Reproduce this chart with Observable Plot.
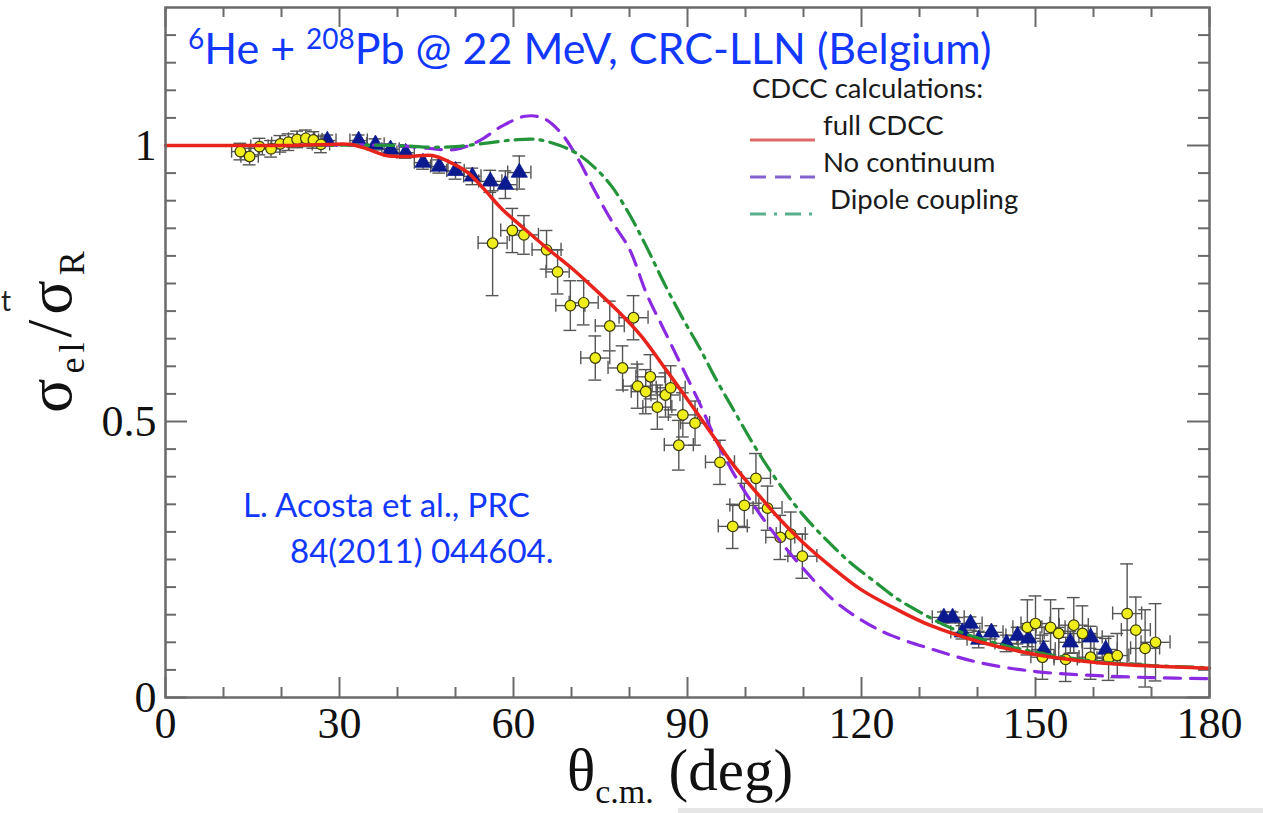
<!DOCTYPE html>
<html><head><meta charset="utf-8">
<script src="https://cdn.jsdelivr.net/npm/d3@7"></script>
<script src="https://cdn.jsdelivr.net/npm/@observablehq/plot@0.6"></script>
<style>
html,body{margin:0;padding:0;background:#fff;}
#wrap{position:relative;width:1263px;height:813px;overflow:hidden;}
#bar{position:absolute;left:678px;top:808px;width:585px;height:5px;background:#e6e6e6;}
</style></head>
<body><div id="wrap"><div id="bar"></div></div>
<script>
// ---- curves (theta in deg, sigma_el/sigma_R) ----
const fullTheta = [0,10,20,28,32,35,38,42,46,49,52,55,58,62,66,70,74,78,82,86,90,94,98,102,106,110,115,120,126,132,140,150,160,170,180];
const fullRatio = [1.0,1.0,1.0,1.002,1.002,0.993,0.982,0.98,0.982,0.97,0.952,0.92,0.885,0.848,0.812,0.778,0.74,0.70,0.655,0.598,0.54,0.48,0.42,0.37,0.322,0.28,0.235,0.195,0.16,0.13,0.102,0.078,0.064,0.057,0.053];
const noContTheta = [0,20,40,45,50,54,58,62,65,68,71,74,77,80,83,86,89,92,95,98,101,104,107,110,115,120,125,132,140,150,160,170,180];
const noContRatio = [1.0,1.0,1.0,0.995,0.993,1.008,1.035,1.053,1.05,1.025,0.978,0.918,0.862,0.812,0.73,0.665,0.60,0.535,0.465,0.405,0.355,0.31,0.27,0.233,0.178,0.14,0.113,0.088,0.064,0.047,0.04,0.036,0.034];
const dipoleTheta = [0,20,40,45,50,55,60,64,68,71,74,77,80,83,86,89,92,95,98,101,104,107,110,114,118,122,126,130,135,140,150,160,170,180];
const dipoleRatio = [1.0,1.0,1.0,0.997,0.998,1.004,1.01,1.011,1.0,0.985,0.96,0.925,0.875,0.815,0.75,0.69,0.635,0.575,0.52,0.465,0.415,0.37,0.33,0.285,0.245,0.212,0.18,0.155,0.128,0.108,0.082,0.066,0.058,0.054];

// ---- data: yellow circles ----
const circTheta = [12.9,14.5,16.2,18.2,19.8,21.2,22.7,24.2,25.5,26.8,
  56.4,59.8,61.8,65.7,67.6,69.8,72.1,74.1,76.6,78.8,80.7,81.4,82.8,83.6,84.8,86.2,87.1,88.5,89.2,91.3,95.6,97.8,99.8,101.8,103.8,106.0,107.8,109.8,
  148.6,150.0,151.2,152.6,154.0,155.2,156.6,158.1,159.5,162.6,164.1,165.8,167.3,168.9,170.7];
const circRatio = [0.989,0.980,0.998,0.994,1.003,1.006,1.011,1.013,1.010,1.002,
  0.823,0.846,0.838,0.811,0.771,0.710,0.715,0.615,0.673,0.597,0.688,0.564,0.554,0.581,0.526,0.548,0.561,0.457,0.512,0.497,0.426,0.310,0.348,0.397,0.343,0.290,0.296,0.256,
  0.127,0.134,0.073,0.127,0.116,0.069,0.131,0.116,0.073,0.071,0.076,0.152,0.122,0.089,0.100];
const circThetaErr = [1.5,1.5,1.5,1.5,1.5,1.5,1.5,1.5,1.5,1.5,
  2.5,2,2.5,2.5,2,2.5,2.5,2.5,2.5,2.5,2.5,2.5,2.5,2.5,2.5,2.5,2.5,2.5,2.5,2.5,2.5,2.5,2.5,2.5,2.5,2.5,2.5,2.5,
  2.5,2.5,2,2.5,2.5,2,2.5,2.5,2,2,2,2.5,2.5,2.5,2.5];
const circRatioErr = [0.015,0.015,0.015,0.015,0.015,0.015,0.015,0.015,0.015,0.015,
  0.095,0.04,0.035,0.035,0.04,0.045,0.04,0.04,0.045,0.04,0.04,0.04,0.04,0.04,0.04,0.04,0.04,0.045,0.04,0.04,0.04,0.04,0.04,0.045,0.04,0.04,0.04,0.04,
  0.05,0.05,0.04,0.05,0.045,0.04,0.05,0.05,0.04,0.04,0.04,0.09,0.06,0.07,0.07];

// ---- data: blue triangles ----
const triTheta = [27.9,33.3,36.2,38.8,41.4,44.4,47.2,50.0,52.9,56.0,58.6,61.0,
  134.2,135.7,137.4,138.8,140.2,142.4,145.0,146.9,148.8,151.4,156.0,159.5,162.1];
const triRatio = [1.009,1.009,1.002,0.993,0.987,0.969,0.962,0.954,0.944,0.935,0.929,0.951,
  0.145,0.145,0.118,0.134,0.105,0.118,0.098,0.112,0.107,0.087,0.100,0.109,0.087];
const triThetaErr = [1.5,1.5,1.5,1.5,1.5,1.5,1.5,1.5,1.5,2,2,2,
  2,2,2,2,2,2,2,2,2,2,2,2,2];
const triRatioErr = [0.01,0.01,0.01,0.01,0.01,0.012,0.012,0.015,0.015,0.02,0.025,0.03,
  0.01,0.01,0.012,0.012,0.015,0.012,0.015,0.015,0.015,0.015,0.02,0.02,0.02];

// ---- ticks ----
const xMajor = [0,30,60,90,120,150,180];
const xMinor = [10,20,40,50,70,80,100,110,130,140,160,170];
const yMajor = [0,0.5,1];
const yMinor = [0.05,0.1,0.15,0.2,0.25,0.3,0.35,0.4,0.45,0.55,0.6,0.65,0.7,0.75,0.8,0.85,0.9,0.95,1.05,1.1,1.15,1.2];

const mL=165, mR=54, mT=7, mB=116, W=1263, H=813;
const innerW = W-mL-mR, innerH = H-mT-mB;

const curve = (th, v) => th.map((t,i)=>({t, v:v[i]}));
const rows = (th, v, dth, dv) => th.map((t,i)=>({t, v:v[i], dt:dth[i], dv:dv[i]}));
const circ = rows(circTheta, circRatio, circThetaErr, circRatioErr);
const tri = rows(triTheta, triRatio, triThetaErr, triRatioErr);

function errMarks(data){
  const st = {stroke:"#555", strokeWidth:1.4};
  return [
    Plot.ruleX(data, {x:"t", y1:d=>d.v-d.dv, y2:d=>d.v+d.dv, ...st}),
    Plot.ruleY(data, {y:"v", x1:d=>d.t-d.dt, x2:d=>d.t+d.dt, ...st}),
    Plot.ruleY(data, {y:d=>d.v-d.dv, x1:d=>d.t-1.1, x2:d=>d.t+1.1, ...st}),
    Plot.ruleY(data, {y:d=>d.v+d.dv, x1:d=>d.t-1.1, x2:d=>d.t+1.1, ...st}),
    Plot.ruleX(data, {x:d=>d.t-d.dt, y1:d=>d.v-0.012, y2:d=>d.v+0.012, ...st}),
    Plot.ruleX(data, {x:d=>d.t+d.dt, y1:d=>d.v-0.012, y2:d=>d.v+0.012, ...st})
  ];
}

const tk = {stroke:"#6a6a6a", strokeWidth:2};
const svg = Plot.plot({
  width:W, height:H, marginLeft:mL, marginRight:mR, marginTop:mT, marginBottom:mB,
  style:{background:"#fff", fontFamily:"'Liberation Serif','DejaVu Serif',serif", fontSize:"44px", color:"#111"},
  x:{domain:[0,180]},
  y:{domain:[0,1.25]},
  marks:[
    Plot.ruleX(xMinor, {x:d=>d, insetTop:innerH-10, ...tk}),
    Plot.ruleX(xMajor, {x:d=>d, insetTop:innerH-20, ...tk}),
    Plot.ruleX(xMinor, {x:d=>d, insetBottom:innerH-10, ...tk}),
    Plot.ruleX(xMajor, {x:d=>d, insetBottom:innerH-20, ...tk}),
    Plot.ruleY(yMinor, {y:d=>d, insetRight:innerW-11, ...tk}),
    Plot.ruleY(yMajor, {y:d=>d, insetRight:innerW-22, ...tk}),
    Plot.ruleY(yMinor, {y:d=>d, insetLeft:innerW-11, ...tk}),
    Plot.ruleY(yMajor, {y:d=>d, insetLeft:innerW-22, ...tk}),
    Plot.axisX({ticks:xMajor, tickSize:0, tickPadding:9, tickFormat:d=>String(d), label:null}),
    Plot.axisY({ticks:yMajor, tickSize:0, tickPadding:9, tickFormat:d=>d===0.5?"0.5":String(d), label:null}),
    ...errMarks(circ),
    ...errMarks(tri),
    Plot.dot(tri, {x:"t", y:"v", symbol:"triangle", r:6, fill:"#0b1a8e", stroke:"#0b1a8e", strokeWidth:0.8}),
    Plot.dot(circ, {x:"t", y:"v", r:5.3, fill:"#f0ee1a", stroke:"#3a3a10", strokeWidth:1.2}),
    Plot.line(curve(noContTheta, noContRatio), {x:"t", y:"v", stroke:"#8a2be2", strokeWidth:3.2, strokeDasharray:"16,10", curve:"catmull-rom"}),
    Plot.line(curve(dipoleTheta, dipoleRatio), {x:"t", y:"v", stroke:"#23943a", strokeWidth:3.2, strokeDasharray:"18,7,3,7", curve:"catmull-rom"}),
    Plot.line(curve(fullTheta, fullRatio), {x:"t", y:"v", stroke:"#e8231b", strokeWidth:3.5, curve:"catmull-rom"}),
    Plot.frame({stroke:"#6a6a6a", strokeWidth:2.5})
  ]
});
document.getElementById("wrap").prepend(svg);
svg.style.position="absolute"; svg.style.left="0"; svg.style.top="0";

const s = d3.select(svg);
const ann = s.append("g").attr("text-anchor","start");
const sans = "Lato, 'Open Sans', sans-serif";
const serif = "'Liberation Serif','DejaVu Serif',serif";
const blue = "#1238ff";

// title
const t = ann.append("text").attr("x",188).attr("y",64).attr("fill",blue).attr("font-family",sans).attr("font-size",43);
t.append("tspan").attr("font-size",28).attr("dy",-15).text("6");
t.append("tspan").attr("dy",15).text("He + ");
t.append("tspan").attr("font-size",28).attr("dy",-15).text("208");
t.append("tspan").attr("dy",15).text("Pb @ 22 MeV, CRC-LLN (Belgium)");

// citation
ann.append("text").attr("x",243).attr("y",517).attr("fill",blue).attr("font-family",sans).attr("font-size",33).text("L. Acosta et al., PRC");
ann.append("text").attr("x",290).attr("y",563).attr("fill",blue).attr("font-family",sans).attr("font-size",33).text("84(2011) 044604.");

// legend
const lg = ann.append("g").attr("font-family",sans).attr("font-size",27.5).attr("fill","#1a1a1a");
lg.append("text").attr("x",752).attr("y",98).text("CDCC calculations:");
lg.append("text").attr("x",823).attr("y",135).text("full CDCC");
lg.append("text").attr("x",823).attr("y",172).text("No continuum");
lg.append("text").attr("x",830).attr("y",209).text("Dipole coupling");
lg.append("line").attr("x1",750).attr("x2",815).attr("y1",140).attr("y2",140).attr("stroke","#dd6a66").attr("stroke-width",3);
lg.append("line").attr("x1",750).attr("x2",815).attr("y1",177).attr("y2",177).attr("stroke","#8462d0").attr("stroke-width",3).attr("stroke-dasharray","16,9");
lg.append("line").attr("x1",750).attr("x2",818).attr("y1",214).attr("y2",214).attr("stroke","#5aae8c").attr("stroke-width",3).attr("stroke-dasharray","16,8,3,8");

// x label
const xl = ann.append("text").attr("x",567).attr("y",790).attr("font-family",serif).attr("font-size",59).attr("fill","#111");
xl.append("tspan").text("θ");
xl.append("tspan").attr("font-size",34).attr("dy",13).text("c.m.");
xl.append("tspan").attr("dy",-13).text(" (deg)");

// y label
const yg = ann.append("g").attr("transform","translate(71,413) rotate(-90)");
const yl = yg.append("text").attr("x",0).attr("y",0).attr("font-family",serif).attr("font-size",64).attr("letter-spacing",5).attr("fill","#111");
yl.append("tspan").text("σ");
yl.append("tspan").attr("font-size",36).attr("dy",13).text("el");
yl.append("tspan").attr("dy",-13).text("/σ");
yl.append("tspan").attr("font-size",36).attr("dy",13).text("R");

// stray slide text
ann.append("text").attr("x",1).attr("y",311).attr("font-family",sans).attr("font-size",28).attr("fill","#222").text("t");
</script>
</body></html>
